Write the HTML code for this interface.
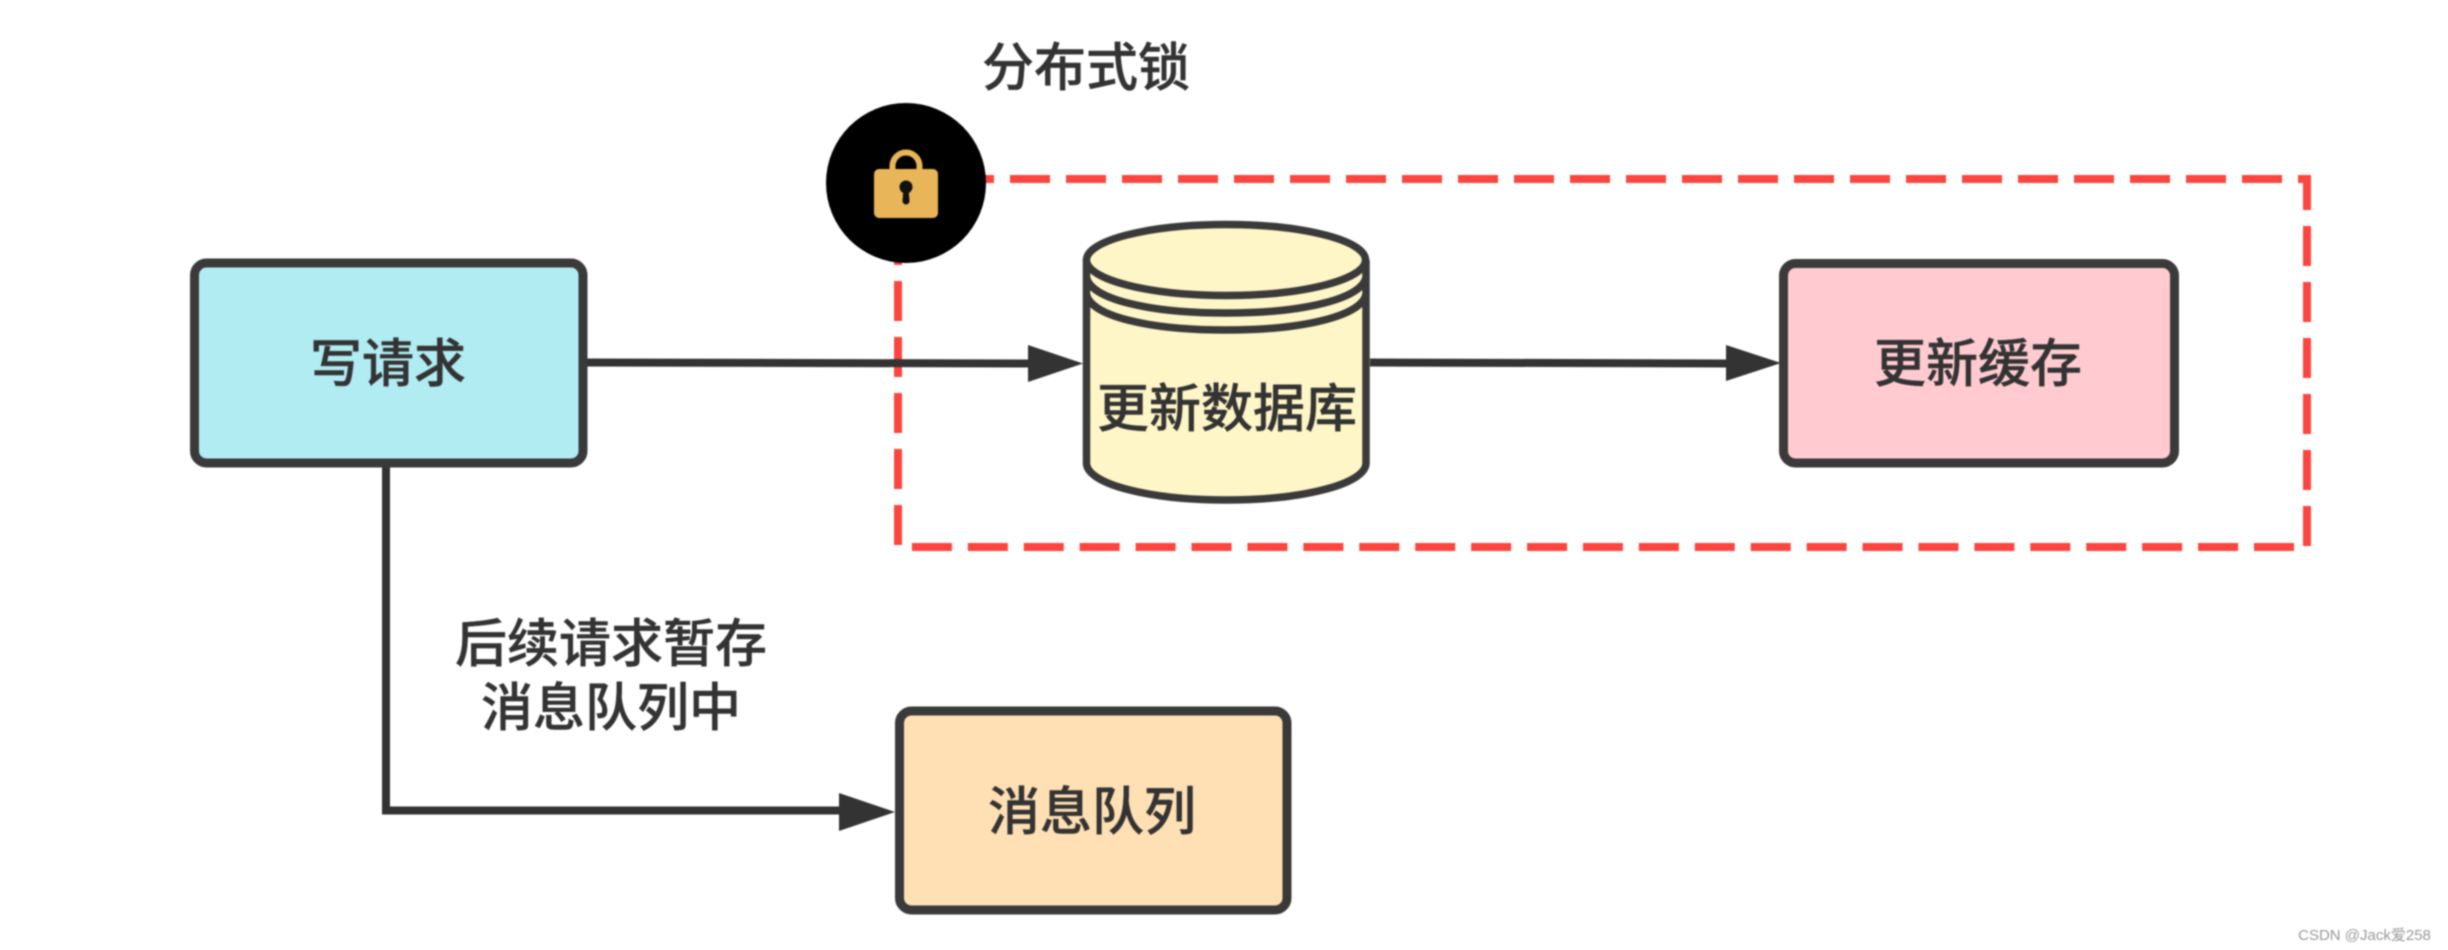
<!DOCTYPE html>
<html lang="zh"><head><meta charset="utf-8"><title>分布式锁</title>
<style>html,body{margin:0;padding:0;background:#fff;width:2448px;height:950px;overflow:hidden}svg{display:block}
text{font-family:"Liberation Sans","Noto Sans CJK SC",sans-serif;font-size:52px;font-weight:500;fill:#333;stroke:#333;stroke-width:.4px;text-anchor:middle}</style></head>
<body><svg width="2448" height="950" viewBox="0 0 2448 950" xmlns="http://www.w3.org/2000/svg">
<g style="filter:blur(.7px)">
<path d="M898 179H2307V547" fill="none" stroke="#fb453f" stroke-width="8" stroke-dasharray="40 16"/>
<path d="M2294 547H905" fill="none" stroke="#fb453f" stroke-width="8" stroke-dasharray="40 15.920"/>
<path d="M898 545V225" fill="none" stroke="#fb453f" stroke-width="8" stroke-dasharray="40 16"/>
<circle cx="906" cy="183" r="80" fill="#000"/>
<path d="M892.500 172V166a13.500 13.500 0 0 1 27 0V172" fill="none" stroke="#e8b558" stroke-width="6"/>
<rect x="874" y="169" width="64" height="49" rx="5" fill="#e8b558"/>
<circle cx="906" cy="187" r="6.500" fill="#111"/><path d="M903.500 188h5l1 13a3.500 3.500 0 0 1-7 0z" fill="#111"/>
<path d="M587 362.500L1030 363.500M1370 362.500L1728 363.500M386 467V810.500H841" fill="none" stroke="#333" stroke-width="8"/>
<path d="M1028 345L1083 363.500L1028 382zM1726 345L1781 363L1726 381zM839 793L895 812L839 831z" fill="#333"/>
<rect x="194.500" y="263" width="388.500" height="200" rx="12" fill="#b1ecf3" stroke="#3a3a3a" stroke-width="9"/>
<rect x="1783.500" y="263.500" width="391" height="199.500" rx="12" fill="#ffcbd1" stroke="#3a3a3a" stroke-width="9"/>
<rect x="899.500" y="711" width="387.500" height="199" rx="12" fill="#ffdfb4" stroke="#3a3a3a" stroke-width="9"/>
<path d="M1086.500 260V463C1086.500 484 1149 500 1226 500S1366 484 1366 463V260" fill="#fff6c7" stroke="#3a3a3a" stroke-width="7.500"/>
<ellipse cx="1226" cy="260" rx="139.500" ry="35.500" fill="#fff6c7" stroke="#3a3a3a" stroke-width="7.500"/>
<path d="M1086.500 277C1090 299 1149 313 1226 313S1362 299 1366 277M1086.500 294C1090 316 1149 330 1226 330S1362 316 1366 294" fill="none" stroke="#3a3a3a" stroke-width="7.500"/>
<text x="1086" y="86">分布式锁</text>
<text x="388" y="382">写请求</text>
<text x="1227" y="427">更新数据库</text>
<text x="1978" y="382">更新缓存</text>
<text x="1092" y="830">消息队列</text>
<text x="611" y="662">后续请求暂存</text>
<text x="611" y="726">消息队列中</text>
<text x="2364.500" y="940" style="font-size:15px;font-weight:400;fill:#9a9a9a;stroke:none">CSDN @Jack爱258</text>
</g></svg></body></html>
